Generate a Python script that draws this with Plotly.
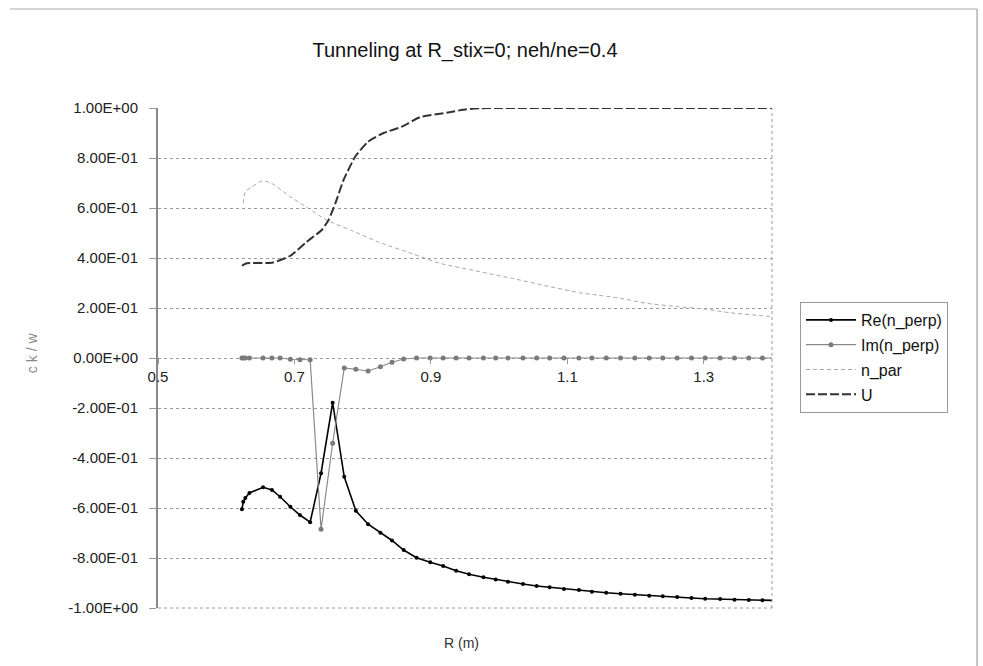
import plotly.graph_objects as go

# Radial positions (m) shared by the perpendicular-index series
R = [0.623, 0.625, 0.628, 0.634, 0.654, 0.667, 0.679, 0.694, 0.708, 0.723,
     0.739, 0.756, 0.773, 0.790, 0.808, 0.826, 0.843, 0.860, 0.879, 0.899,
     0.918, 0.937, 0.956, 0.977, 0.995, 1.013, 1.035, 1.055, 1.074, 1.095,
     1.117, 1.136, 1.157, 1.178, 1.199, 1.220, 1.240, 1.261, 1.282, 1.302,
     1.324, 1.345, 1.366, 1.386, 1.405]

RE_N_PERP = [-0.605, -0.575, -0.560, -0.540, -0.517, -0.528, -0.555, -0.595, -0.628, -0.657,
             -0.461, -0.179, -0.475, -0.611, -0.665, -0.699, -0.730, -0.768, -0.799, -0.817,
             -0.832, -0.851, -0.865, -0.877, -0.886, -0.895, -0.904, -0.912, -0.917, -0.924,
             -0.928, -0.935, -0.939, -0.943, -0.947, -0.951, -0.953, -0.956, -0.960, -0.963,
             -0.964, -0.967, -0.968, -0.969, -0.970]

IM_N_PERP = [0.0, 0.0, 0.0, 0.0, 0.0, 0.0, 0.0, -0.005, -0.007, -0.007,
             -0.685, -0.341, -0.040, -0.045, -0.052, -0.035, -0.017, -0.004, 0.0, 0.0,
             0.0, 0.0, 0.0, 0.0, 0.0, 0.0, 0.0, 0.0, 0.0, 0.0,
             0.0, 0.0, 0.0, 0.0, 0.0, 0.0, 0.0, 0.0, 0.0, 0.0,
             0.0, 0.0, 0.0, 0.0, 0.0]

# Parallel index
NPAR_R = [0.625, 0.628, 0.638, 0.652, 0.665, 0.694, 0.718, 0.747, 0.782, 0.826,
          0.874, 0.913, 0.972, 1.020, 1.070, 1.118, 1.143, 1.177, 1.216, 1.264,
          1.304, 1.338, 1.391, 1.400]
N_PAR = [0.619, 0.665, 0.685, 0.708, 0.701, 0.645, 0.603, 0.552, 0.512, 0.461,
         0.416, 0.379, 0.345, 0.318, 0.288, 0.261, 0.252, 0.239, 0.219, 0.205,
         0.195, 0.181, 0.168, 0.166]

# U
U_R = [0.623, 0.630, 0.667, 0.694, 0.718, 0.740, 0.750, 0.760, 0.772, 0.789,
       0.808, 0.830, 0.857, 0.884, 0.923, 0.952, 0.972, 1.000, 1.400]
U = [0.369, 0.379, 0.381, 0.409, 0.465, 0.512, 0.552, 0.619, 0.712, 0.805,
     0.865, 0.899, 0.925, 0.963, 0.981, 0.995, 0.999, 1.000, 1.000]

Y_TICKS = [1.0, 0.8, 0.6, 0.4, 0.2, 0.0, -0.2, -0.4, -0.6, -0.8, -1.0]
Y_TICK_LABELS = ["1.00E+00", "8.00E-01", "6.00E-01", "4.00E-01", "2.00E-01", "0.00E+00",
                 "-2.00E-01", "-4.00E-01", "-6.00E-01", "-8.00E-01", "-1.00E+00"]
X_TICKS = [0.5, 0.7, 0.9, 1.1, 1.3]
X_TICK_LABELS = ["0.5", "0.7", "0.9", "1.1", "1.3"]

FONT = "Liberation Sans, Arial, sans-serif"

fig = go.Figure()
fig.add_trace(go.Scatter(
    x=R, y=RE_N_PERP, name="Re(n_perp)", mode="lines+markers", legendgroup="a",
    line=dict(color="#000000", width=1.6),
    marker=dict(color="#000000", size=4, symbol="circle")))
fig.add_trace(go.Scatter(
    x=R, y=IM_N_PERP, name="Im(n_perp)", mode="lines+markers", legendgroup="b",
    line=dict(color="#8a8a8a", width=1.2),
    marker=dict(color="#7a7a7a", size=5, symbol="circle")))
fig.add_trace(go.Scatter(
    x=NPAR_R, y=N_PAR, name="n_par", mode="lines", legendgroup="c",
    line=dict(color="#a8a8a8", width=1, dash="4px,3px", shape="spline", smoothing=0.6)))
fig.add_trace(go.Scatter(
    x=U_R, y=U, name="U", mode="lines", legendgroup="d",
    line=dict(color="#333333", width=2, dash="9px,3px", shape="spline", smoothing=0.5)))

fig.update_layout(
    width=983, height=666,
    margin=dict(l=158, r=211, t=108, b=58),
    paper_bgcolor="white", plot_bgcolor="white",
    font=dict(family=FONT, color="#222222", size=15),
    title=dict(text="Tunneling at R_stix=0; neh/ne=0.4", x=0.5, xref="paper",
               xanchor="center", y=0.925, yref="container", yanchor="middle",
               font=dict(family=FONT, size=20, color="#111111")),
    showlegend=True,
    legend=dict(x=1.0456, xanchor="left", y=0.612, yanchor="top",
                bgcolor="white", bordercolor="#999999", borderwidth=1,
                font=dict(family=FONT, size=16, color="#111111"),
                traceorder="grouped", tracegroupgap=1, itemwidth=50),
    xaxis=dict(range=[0.5, 1.4], tickvals=X_TICKS, ticktext=X_TICK_LABELS,
               showgrid=False, zeroline=False, showline=False,
               anchor="free", position=0.5,
               ticks="outside", ticklen=5, tickcolor="#999999",
               tickfont=dict(family=FONT, size=15, color="#222222")),
    yaxis=dict(range=[-1.0, 1.0], tickvals=Y_TICKS, ticktext=Y_TICK_LABELS,
               showgrid=True, gridcolor="#9a9a9a", griddash="dot", gridwidth=1,
               zeroline=False, showline=True, linecolor="#888888", linewidth=2,
               ticks="outside", ticklen=7, tickcolor="#999999",
               ticklabelstandoff=8,
               tickfont=dict(family=FONT, size=15, color="#222222")),
    annotations=[
        dict(text="R (m)", x=0.495, y=-0.07, xref="paper", yref="paper",
             xanchor="center", yanchor="middle", showarrow=False,
             font=dict(family=FONT, size=14, color="#333333")),
        dict(text="c k / w", x=-0.205, y=0.51, xref="paper", yref="paper",
             xanchor="center", yanchor="middle", showarrow=False, textangle=-90,
             font=dict(family=FONT, size=14, color="#8a8a8a")),
    ],
    shapes=[
        # right border of the plot area
        dict(type="line", xref="paper", yref="paper", x0=1, x1=1, y0=0, y1=1,
             line=dict(color="#9a9a9a", width=1, dash="dot")),
        # bottom border of the plot area
        dict(type="line", xref="paper", yref="paper", x0=0, x1=1, y0=0, y1=0,
             line=dict(color="#9a9a9a", width=1, dash="dot")),
        # chart frame (top and right edges)
        dict(type="line", xref="paper", yref="paper", x0=-0.241, x1=1.334, y0=1.198, y1=1.198,
             line=dict(color="#aaaaaa", width=1)),
        dict(type="line", xref="paper", yref="paper", x0=1.334, x1=1.334, y0=1.198, y1=-0.12,
             line=dict(color="#888888", width=1)),
    ],
)

fig.write_html("out.html")
